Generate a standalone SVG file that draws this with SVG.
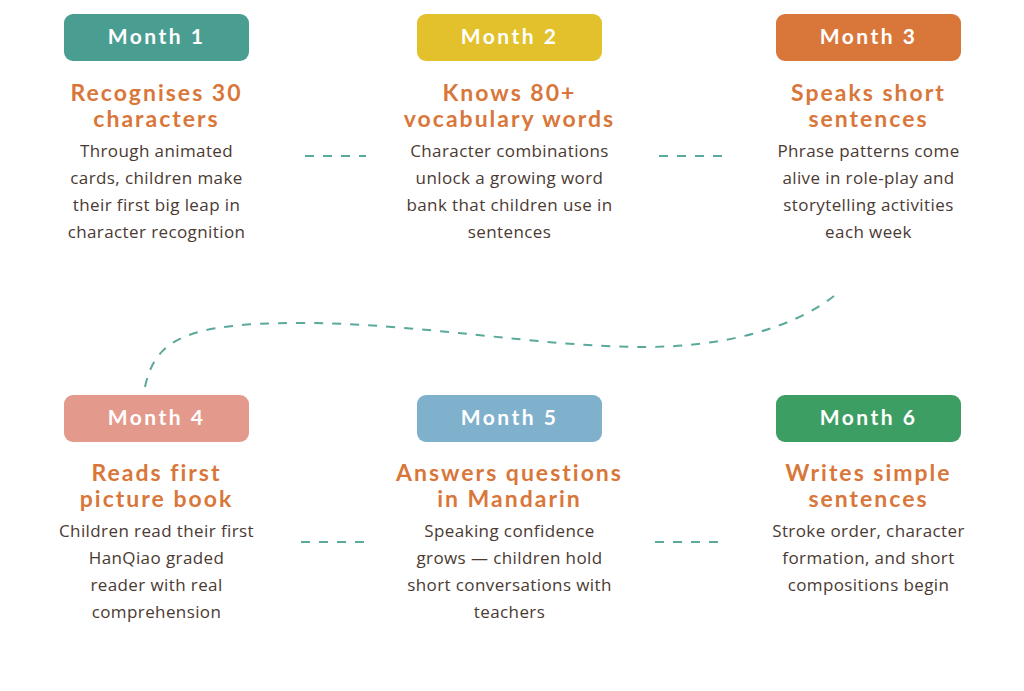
<svg xmlns="http://www.w3.org/2000/svg" width="1024" height="691" viewBox="0 0 1024 691">
<style>
.badge-t{font-family:"Lato","Noto Sans",sans-serif;font-weight:700;font-size:21px;fill:#fff;text-anchor:middle;letter-spacing:2.5px}
.title{font-family:"Lato","Noto Sans",sans-serif;font-weight:700;font-size:23px;fill:#d9773a;text-anchor:middle;letter-spacing:2px}
.body{font-family:"Open Sans","Noto Sans",sans-serif;font-size:17px;fill:#4a3a33;text-anchor:middle;letter-spacing:0.4px}
.conn{fill:none;stroke:#5aa99a;stroke-width:2;stroke-dasharray:9 9}
</style>
<rect width="1024" height="691" fill="#fff"/>
<g id="connectors">
<line class="conn" x1="305" y1="156" x2="366" y2="156"/>
<line class="conn" x1="659" y1="156" x2="726" y2="156"/>
<line class="conn" x1="301" y1="542" x2="366" y2="542"/>
<line class="conn" x1="655" y1="542" x2="720" y2="542"/>
<path class="conn" d="M145,387 C155,340 185,323 300,323 C420,323 540,347 644,347 C720,347 790,330 834,296"/>
</g>
<g id="month1">
<rect x="64" y="14" width="185" height="47" rx="9" fill="#4a9e91"/>
<text class="badge-t" x="156.5" y="44">Month 1</text>
<text class="title" x="156.5" y="101">Recognises 30</text>
<text class="title" x="156.5" y="127">characters</text>
<text class="body" x="156.5" y="157">Through animated</text>
<text class="body" x="156.5" y="184">cards, children make</text>
<text class="body" x="156.5" y="211">their first big leap in</text>
<text class="body" x="156.5" y="238">character recognition</text>
</g>
<g id="month2">
<rect x="417" y="14" width="185" height="47" rx="9" fill="#e2c12c"/>
<text class="badge-t" x="509.5" y="44">Month 2</text>
<text class="title" x="509.5" y="101">Knows 80+</text>
<text class="title" x="509.5" y="127">vocabulary words</text>
<text class="body" x="509.5" y="157">Character combinations</text>
<text class="body" x="509.5" y="184">unlock a growing word</text>
<text class="body" x="509.5" y="211">bank that children use in</text>
<text class="body" x="509.5" y="238">sentences</text>
</g>
<g id="month3">
<rect x="776" y="14" width="185" height="47" rx="9" fill="#d9773a"/>
<text class="badge-t" x="868.5" y="44">Month 3</text>
<text class="title" x="868.5" y="101">Speaks short</text>
<text class="title" x="868.5" y="127">sentences</text>
<text class="body" x="868.5" y="157">Phrase patterns come</text>
<text class="body" x="868.5" y="184">alive in role-play and</text>
<text class="body" x="868.5" y="211">storytelling activities</text>
<text class="body" x="868.5" y="238">each week</text>
</g>
<g id="month4">
<rect x="64" y="395" width="185" height="47" rx="9" fill="#e39a8c"/>
<text class="badge-t" x="156.5" y="425">Month 4</text>
<text class="title" x="156.5" y="481">Reads first</text>
<text class="title" x="156.5" y="507">picture book</text>
<text class="body" x="156.5" y="537">Children read their first</text>
<text class="body" x="156.5" y="564">HanQiao graded</text>
<text class="body" x="156.5" y="591">reader with real</text>
<text class="body" x="156.5" y="618">comprehension</text>
</g>
<g id="month5">
<rect x="417" y="395" width="185" height="47" rx="9" fill="#7fb0cc"/>
<text class="badge-t" x="509.5" y="425">Month 5</text>
<text class="title" x="509.5" y="481">Answers questions</text>
<text class="title" x="509.5" y="507">in Mandarin</text>
<text class="body" x="509.5" y="537">Speaking confidence</text>
<text class="body" x="509.5" y="564">grows — children hold</text>
<text class="body" x="509.5" y="591">short conversations with</text>
<text class="body" x="509.5" y="618">teachers</text>
</g>
<g id="month6">
<rect x="776" y="395" width="185" height="47" rx="9" fill="#3d9e63"/>
<text class="badge-t" x="868.5" y="425">Month 6</text>
<text class="title" x="868.5" y="481">Writes simple</text>
<text class="title" x="868.5" y="507">sentences</text>
<text class="body" x="868.5" y="537">Stroke order, character</text>
<text class="body" x="868.5" y="564">formation, and short</text>
<text class="body" x="868.5" y="591">compositions begin</text>
</g>
</svg>
